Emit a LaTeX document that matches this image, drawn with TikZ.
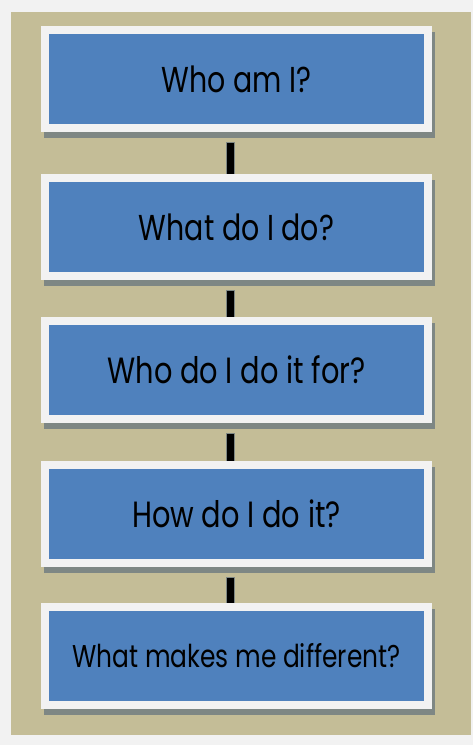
\documentclass[tikz,border=0pt]{standalone}
\usepackage{fontspec}
\setmainfont{Poppins}[FakeStretch=0.79]
\usetikzlibrary{calc}
\definecolor{pagebg}{HTML}{F2F2F2}
\definecolor{tanbg}{HTML}{C4BD97}
\definecolor{framew}{HTML}{F2F2F2}
\definecolor{boxblue}{HTML}{4F81BD}
\definecolor{shadowgray}{HTML}{7E8784}
\begin{document}
\begin{tikzpicture}[x=1pt,y=-1pt,
  framebox/.style={fill=framew, minimum width=391pt, minimum height=106pt, inner sep=0pt},
  bluebox/.style={fill=boxblue, minimum width=375pt, minimum height=90pt, inner sep=0pt, text=black},
  shadowbox/.style={fill=shadowgray, minimum width=391pt, minimum height=106pt, inner sep=0pt},
  conn/.style={line width=8.5pt, draw=shadowgray},
  conninner/.style={line width=7pt, draw=black}]
\useasboundingbox (0,0) rectangle (473,745);
\fill[pagebg] (0,0) rectangle (473,745);
\fill[tanbg] (11,12) rectangle (471,735);
% shadows
\foreach \t in {26,174,317,461,603}{
  \node[shadowbox] at (239,\t+58.5) {};
}
% frames
\node[framebox] (f1) at (236.5,79) {};
\node[framebox] (f2) at (236.5,227) {};
\node[framebox] (f3) at (236.5,370) {};
\node[framebox] (f4) at (236.5,514) {};
\node[framebox] (f5) at (236.5,656) {};
% blue boxes with text
\node[bluebox] (b1) at (f1.center) {\fontsize{36}{40}\selectfont Who am I?};
\node[bluebox] (b2) at (f2.center) {\fontsize{36}{40}\selectfont What do I do?};
\node[bluebox] (b3) at (f3.center) {\fontsize{36.5}{40}\selectfont Who do I do it for?};
\node[bluebox] (b4) at (f4.center) {\fontsize{36.5}{40}\selectfont How do I do it?};
\node[bluebox] (b5) at (f5.center) {\fontsize{31.5}{36}\selectfont What makes me different?};
% connectors
\foreach \a/\b in {f1/f2,f2/f3,f3/f4,f4/f5}{
  \draw[conn] ($(\a.south)+(-6,10)$) -- ($(\b.north)+(-6,0)$);
  \draw[conninner] ($(\a.south)+(-6,10.75)$) -- ($(\b.north)+(-6,0)$);
}
\end{tikzpicture}
\end{document}
